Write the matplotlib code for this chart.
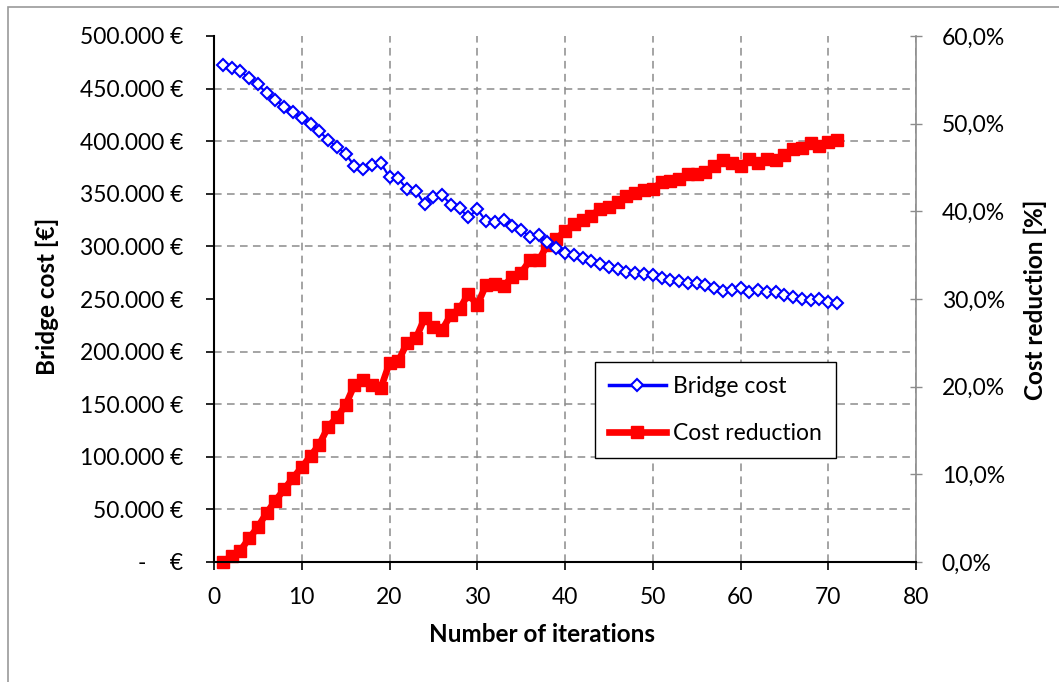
import matplotlib
matplotlib.use("Agg")
import matplotlib.pyplot as plt
from matplotlib.ticker import MultipleLocator, FixedLocator, NullLocator
from matplotlib.lines import Line2D
from matplotlib.patches import Rectangle

plt.rcParams['font.family'] = ['Lato', 'DejaVu Sans']

iterations = list(range(1, 72))
bridge_cost = [472400, 469300, 466700, 459800, 454100, 445500, 439200, 432800, 427500, 421800,
               416400, 409700, 401100, 394800, 387800, 376700, 373600, 377700, 379300, 365800,
               364700, 354300, 353000, 340300, 347200, 348900, 339400, 336200, 327600, 335300,
               324100, 323500, 325100, 319400, 315600, 309200, 310800, 304500, 298200, 294200,
               291800, 288700, 286400, 283000, 280700, 278200, 276000, 274400, 273500, 272800,
               269700, 268100, 267100, 264900, 264900, 263300, 260200, 257600, 258600, 260200,
               256900, 258600, 256900, 256900, 253800, 251600, 250000, 249000, 249700, 247400,
               246500]
cost_reduction = [0.0, 0.7, 1.3, 2.7, 4.0, 5.6, 7.0, 8.3, 9.6, 10.8,
                  12.1, 13.4, 15.4, 16.5, 17.9, 20.2, 20.8, 20.2, 19.8, 22.7,
                  22.9, 25.0, 25.5, 27.8, 26.8, 26.5, 28.2, 28.9, 30.6, 29.3,
                  31.6, 31.7, 31.5, 32.5, 33.0, 34.4, 34.4, 36.2, 36.9, 37.7,
                  38.6, 39.0, 39.5, 40.3, 40.5, 41.1, 41.7, 42.1, 42.4, 42.6,
                  43.3, 43.5, 43.7, 44.3, 44.3, 44.5, 45.2, 45.9, 45.5, 45.2,
                  46.0, 45.5, 46.0, 45.9, 46.4, 47.1, 47.2, 47.8, 47.4, 47.9,
                  48.1]

x_ticks = [0, 10, 20, 30, 40, 50, 60, 70, 80]
left_ticks = [0, 50000, 100000, 150000, 200000, 250000, 300000, 350000, 400000, 450000, 500000]
left_labels = ["-    €", "50.000 €", "100.000 €", "150.000 €", "200.000 €", "250.000 €",
               "300.000 €", "350.000 €", "400.000 €", "450.000 €", "500.000 €"]
right_ticks = [0, 10, 20, 30, 40, 50, 60]
right_labels = ["0,0%", "10,0%", "20,0%", "30,0%", "40,0%", "50,0%", "60,0%"]

FS = 16.5
TFS = 17.5
GRID = '#8c8c8c'

fig = plt.figure(figsize=(10.59, 6.82), dpi=100)
fig.patches.append(Rectangle((8 / 1059, -0.05), 1.1, 1 - 7 / 682 + 0.05, transform=fig.transFigure,
                             fill=False, edgecolor='#9a9a9a', linewidth=1.2))

ax2 = fig.add_axes([214 / 1059, 1 - 562 / 682, 702 / 1059, 526 / 682])  # red, bottom
ax = ax2.twinx()  # blue, on top
ax.yaxis.tick_left()
ax.yaxis.set_label_position('left')
ax2.yaxis.tick_right()
ax2.yaxis.set_label_position('right')
ax.set_zorder(ax2.get_zorder() + 1)
ax.patch.set_visible(False)

# red series
ax2.plot(iterations, cost_reduction, color='#ff0000', lw=4.8, marker='s', markersize=8.5,
         markeredgecolor='#ff0000', clip_on=False, zorder=3)
ax2.set_ylim(0, 60)
ax2.set_xlim(0, 80)
ax2.yaxis.set_major_locator(FixedLocator(right_ticks))
ax2.set_yticklabels(right_labels)
ax2.yaxis.set_minor_locator(MultipleLocator(6))
ax2.xaxis.set_major_locator(FixedLocator(x_ticks))
ax2.grid(which='minor', axis='y', color=GRID, linestyle=(0, (5, 3.5)), linewidth=1.1)
ax2.grid(which='major', axis='x', color=GRID, linestyle=(0, (5, 3.5)), linewidth=1.1)
ax2.tick_params(axis='y', which='major', direction='inout', length=9, width=1, color=GRID,
                labelsize=FS, pad=14)
ax2.tick_params(axis='y', which='minor', length=0, width=0)
ax2.tick_params(axis='x', which='both', length=0, labelbottom=False)
for s in ['top', 'left', 'bottom']:
    ax2.spines[s].set_visible(False)
ax2.spines['right'].set_color(GRID)
ax2.spines['right'].set_linewidth(1.2)

# blue series
ax.plot(iterations, bridge_cost, color='#0000ff', lw=1.6, marker='D', markersize=6.5,
        markerfacecolor='white', markeredgecolor='#0000ff', markeredgewidth=1.5,
        clip_on=False, zorder=4)
ax.set_ylim(0, 500000)
ax.set_xlim(0, 80)
ax.yaxis.set_major_locator(FixedLocator(left_ticks))
ax.set_yticklabels(left_labels)
ax.xaxis.set_visible(True)
ax.xaxis.set_major_locator(FixedLocator(x_ticks))
ax.xaxis.set_minor_locator(NullLocator())
ax.set_xticklabels([str(t) for t in x_ticks])
ax.tick_params(axis='y', direction='out', length=6, width=1.2, color='black', labelsize=FS, pad=16)
ax.tick_params(axis='x', direction='out', length=6, width=1.2, color='black', labelsize=FS, pad=12,
               bottom=True, labelbottom=True, top=False, labeltop=False)
for s in ['top', 'right']:
    ax.spines[s].set_visible(False)
ax.spines['left'].set_linewidth(1.5)
ax.spines['bottom'].set_linewidth(1.5)

# axis titles
fig.text(47 / 1059, 1 - 296 / 682, "Bridge cost [€]", rotation=90, ha='center', va='center',
         fontsize=TFS, fontweight='bold')
fig.text(1035 / 1059, 1 - 300 / 682, "Cost reduction [%]", rotation=90, ha='center', va='center',
         fontsize=TFS, fontweight='bold')
fig.text(542 / 1059, 1 - 634 / 682, "Number of iterations", ha='center', va='center',
         fontsize=TFS, fontweight='bold')

handles = [Line2D([], [], color='#0000ff', lw=2.5, marker='D', markersize=6.5, markerfacecolor='white',
                  markeredgecolor='#0000ff', markeredgewidth=1.5),
           Line2D([], [], color='#ff0000', lw=4.8, marker='s', markersize=8.5, markeredgecolor='#ff0000')]
leg = ax.legend(handles, ["Bridge cost", "Cost reduction"], loc='upper left',
                bbox_to_anchor=((595 - 214) / 702, (562 - 362) / 526), fontsize=FS,
                frameon=True, fancybox=False, edgecolor='black', framealpha=1,
                handlelength=2.5, handletextpad=0.3, labelspacing=1.15, borderpad=0.6,
                borderaxespad=0)
leg.get_frame().set_linewidth(1.0)

fig.savefig("out.png", dpi=100)
